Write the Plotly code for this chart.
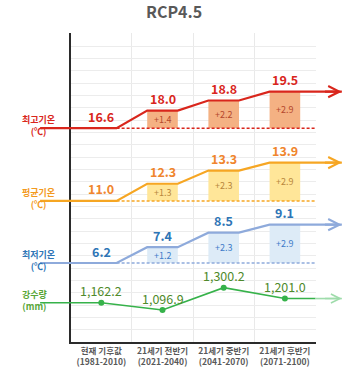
import plotly.graph_objects as go

# ---------------- data ----------------
categories = ["현재 기후값", "21세기 전반기", "21세기 중반기", "21세기 후반기"]
periods = ["(1981-2010)", "(2021-2040)", "(2041-2070)", "(2071-2100)"]
tmax = [16.6, 18.0, 18.8, 19.5]
tmean = [11.0, 12.3, 13.3, 13.9]
tmin = [6.2, 7.4, 8.5, 9.1]
precip = [1162.2, 1096.9, 1300.2, 1201.0]
title_text = "RCP4.5"
series_names = ["최고기온", "평균기온", "최저기온", "강수량"]
series_units = ["(℃)", "(℃)", "(℃)", "(mm)"]

# ---------------- layout constants ----------------
W, H = 348, 374
FONT = "Noto Sans CJK KR, Noto Sans, sans-serif"
KX = 61.2          # px per category
X0PX = 101.3       # px of first category centre
GRID_TOP, GRID_BOT = 33, 342
GRID_STEP = 12.33

def yrange(anchor_val, anchor_px, px_per_unit):
    top = anchor_val + anchor_px / px_per_unit
    return [top - H / px_per_unit, top]

x2_range = [-X0PX / KX, (W - X0PX) / KX]

styles = [
    dict(line="#d9261c", text="#d9261c", bar="#f4b183", delta="#b5472c", label="#d9261c",
         rng=yrange(tmax[0], 128.2, 12.6), axis="y2"),
    dict(line="#f6a623", text="#f0852d", bar="#ffe699", delta="#b8873c", label="#f39a1e",
         rng=yrange(tmean[0], 200.9, 13.2), axis="y3"),
    dict(line="#8eaadb", text="#2e75b6", bar="#ddebf7", delta="#3d7cc9", label="#2e75b6",
         rng=yrange(tmin[0], 263.0, 13.2), axis="y4"),
]
green = dict(line="#36b24a", light="#9fdcab", text="#4f8a2b", label="#58a637",
             rng=yrange(precip[1], 310.0, 0.11), axis="y5")

fig = go.Figure()

# hidden trace to keep grid subplot alive
fig.add_trace(go.Scatter(x=[0], y=[0], xaxis="x", yaxis="y", mode="markers",
                         marker=dict(opacity=0), hoverinfo="skip", showlegend=False))

annotations = []
line_x = [-1.0, 0.25, 0.75, 1.25, 1.75, 2.25, 2.75, 3.93]
ARROW_END = 3.93

for vals, st, name, unit in zip([tmax, tmean, tmin], styles, series_names[:3], series_units[:3]):
    base = vals[0]
    deltas = [round(v - base, 1) for v in vals[1:]]
    fig.add_trace(go.Bar(x=[1, 2, 3], y=deltas, base=[base] * 3, width=0.5,
                         marker=dict(color=st["bar"], line=dict(width=0)),
                         xaxis="x2", yaxis=st["axis"], showlegend=False, hoverinfo="skip"))
    fig.add_trace(go.Scatter(x=[0.25, 3.5], y=[base, base], mode="lines",
                             line=dict(color=st["line"], width=1.5, dash="3px,2px"),
                             xaxis="x2", yaxis=st["axis"], showlegend=False, hoverinfo="skip"))
    ys = [vals[0], vals[0]]
    for v in vals[1:]:
        ys += [v, v]
    fig.add_trace(go.Scatter(x=line_x, y=ys, mode="lines",
                             line=dict(color=st["line"], width=2.2),
                             xaxis="x2", yaxis=st["axis"], showlegend=False, hoverinfo="skip"))
    yref = st["axis"]
    annotations.append(dict(x=ARROW_END, y=vals[-1], ax=ARROW_END - 0.3, ay=vals[-1],
                            xref="x2", yref=yref, axref="x2", ayref=yref, text="",
                            showarrow=True, arrowhead=5, arrowsize=1.0, arrowwidth=2.2,
                            arrowcolor=st["line"], standoff=0))
    for i, v in enumerate(vals):
        annotations.append(dict(x=i, y=v, xref="x2", yref=yref, text=f"{v:.1f}",
                                showarrow=False, yshift=12, yanchor="middle",
                                font=dict(family=FONT, size=12.5, color=st["text"], weight="bold")))
    for i, d in enumerate(deltas, start=1):
        annotations.append(dict(x=i, y=base + d / 2, xref="x2", yref=yref, text=f"+{d:.1f}",
                                showarrow=False, yanchor="middle",
                                font=dict(family=FONT, size=9, color=st["delta"])))
    annotations.append(dict(x=20 / W, y=base, xref="paper", yref=yref,
                            text=f"{name}<br>{unit}", showarrow=False, yshift=2.5,
                            yanchor="middle", align="center",
                            font=dict(family=FONT, size=9, color=st["label"], weight="bold")))

# precipitation
fig.add_trace(go.Scatter(x=[-1.0, 0, 1, 2, 3, 3.5], y=[precip[0]] + precip + [precip[-1]],
                         mode="lines", line=dict(color=green["line"], width=1.6),
                         xaxis="x2", yaxis=green["axis"], showlegend=False, hoverinfo="skip"))
fig.add_trace(go.Scatter(x=[3.5, ARROW_END], y=[precip[-1], precip[-1]],
                         mode="lines", line=dict(color=green["light"], width=1.6),
                         xaxis="x2", yaxis=green["axis"], showlegend=False, hoverinfo="skip"))
fig.add_trace(go.Scatter(x=[0, 1, 2, 3], y=precip, mode="markers",
                         marker=dict(color=green["line"], size=6),
                         xaxis="x2", yaxis=green["axis"], showlegend=False, hoverinfo="skip"))
annotations.append(dict(x=ARROW_END, y=precip[-1], ax=ARROW_END - 0.3, ay=precip[-1],
                        xref="x2", yref=green["axis"], axref="x2", ayref=green["axis"], text="",
                        showarrow=True, arrowhead=5, arrowsize=1.1, arrowwidth=1.6,
                        arrowcolor=green["light"], standoff=0))
for i, v in enumerate(precip):
    annotations.append(dict(x=i, y=v, xref="x2", yref=green["axis"], text=f"{v:,.1f}",
                            showarrow=False, yshift=12, yanchor="middle",
                            font=dict(family=FONT, size=12.5, color=green["text"])))
annotations.append(dict(x=20 / W, y=precip[0], xref="paper", yref=green["axis"],
                        text=f"{series_names[3]}<br>{series_units[3]}", showarrow=False,
                        yshift=2.5, yanchor="middle", align="center",
                        font=dict(family=FONT, size=9, color=green["label"], weight="bold")))

# title
annotations.append(dict(x=0.5, y=1 - 11 / H, xref="paper", yref="paper", text=title_text,
                        showarrow=False, yanchor="middle",
                        font=dict(family=FONT, size=16, color="#595959", weight="bold")))

grid_n = int(round((GRID_BOT - GRID_TOP) / GRID_STEP))
fig.update_layout(
    width=W, height=H, margin=dict(l=0, r=0, t=0, b=0),
    paper_bgcolor="white", plot_bgcolor="rgba(0,0,0,0)",
    barmode="overlay", showlegend=False,
    annotations=annotations,
    xaxis=dict(domain=[(X0PX - 0.5 * KX) / W, (X0PX + 3.5 * KX) / W], range=[-0.5, 3.5],
               tickvals=[0, 1, 2, 3],
               ticktext=[f"{c}<br>{p}" for c, p in zip(categories, periods)],
               tickfont=dict(family=FONT, size=8.5, color="#595959", weight="bold"),
               showgrid=False, zeroline=False, ticks="",
               minor=dict(tickvals=[0.5, 1.5, 2.5, 3.5], showgrid=True,
                          gridcolor="#e9e9e9", gridwidth=1, ticks=""),
               showline=True, linecolor="#2b2b2b", linewidth=2, anchor="y", fixedrange=True),
    yaxis=dict(domain=[(H - GRID_BOT) / H, (H - GRID_TOP) / H],
               range=[0, (GRID_BOT - GRID_TOP) / GRID_STEP],
               tickvals=list(range(1, grid_n)), showticklabels=False, ticks="",
               showgrid=True, gridcolor="#ececec", gridwidth=1, zeroline=False,
               showline=True, linecolor="#2b2b2b", linewidth=2, anchor="x", fixedrange=True),
    xaxis2=dict(domain=[0, 1], range=x2_range, visible=False, anchor="y2", fixedrange=True),
    yaxis2=dict(domain=[0, 1], range=styles[0]["rng"], visible=False, anchor="x2", fixedrange=True),
    yaxis3=dict(domain=[0, 1], range=styles[1]["rng"], visible=False, anchor="x2",
                overlaying="y2", fixedrange=True),
    yaxis4=dict(domain=[0, 1], range=styles[2]["rng"], visible=False, anchor="x2",
                overlaying="y2", fixedrange=True),
    yaxis5=dict(domain=[0, 1], range=green["rng"], visible=False, anchor="x2",
                overlaying="y2", fixedrange=True),
)

fig.write_html("out.html", config=dict(displayModeBar=False))
